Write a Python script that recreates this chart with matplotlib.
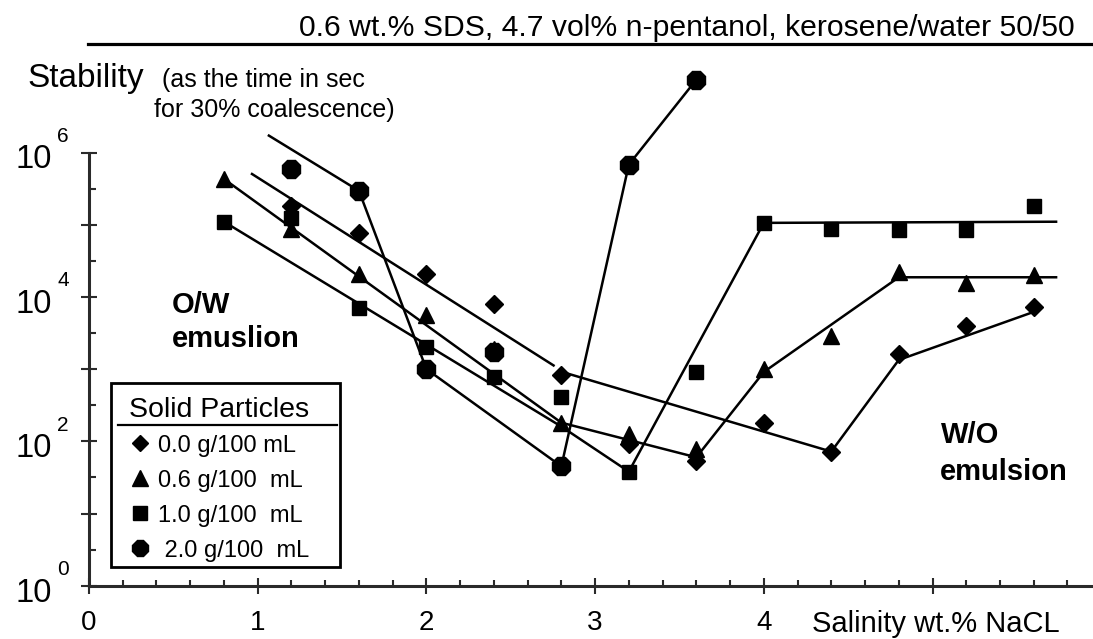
import matplotlib
matplotlib.use('Agg')
import matplotlib.pyplot as plt
import matplotlib.transforms as mtransforms
from matplotlib.lines import Line2D
from matplotlib.patches import Rectangle
from matplotlib.ticker import FixedLocator
import numpy as np

plt.rcParams['font.family'] = ['Liberation Sans', 'DejaVu Sans']

# ---------------- data ----------------
# measured stability (s) vs salinity (wt.% NaCl) for each solid-particle load
x_00 = [1.2, 1.6, 2.0, 2.4, 2.8, 3.2, 3.6, 4.0, 4.4, 4.8, 5.2, 5.6]
y_00 = [1.8e5, 7.6e4, 2.1e4, 7.9e3, 830, 91, 54, 178, 72, 1.6e3, 3.9e3, 7.2e3]

x_06 = [0.8, 1.2, 1.6, 2.0, 2.4, 2.8, 3.2, 3.6, 4.0, 4.4, 4.8, 5.2, 5.6]
y_06 = [4.3e5, 8.7e4, 2.1e4, 5.6e3, 1.9e3, 182, 126, 78, 1.0e3, 2.9e3, 2.2e4, 1.55e4, 2.0e4]

x_10 = [0.8, 1.2, 1.6, 2.0, 2.4, 2.8, 3.2, 3.6, 4.0, 4.4, 4.8, 5.2, 5.6]
y_10 = [1.1e5, 1.23e5, 7.1e3, 2.0e3, 780, 410, 38, 910, 1.07e5, 8.7e4, 8.5e4, 8.5e4, 1.8e5]

x_20 = [1.2, 1.6, 2.0, 2.4, 2.8, 3.2, 3.6]
y_20 = [6.0e5, 2.95e5, 1.0e3, 1.74e3, 45, 6.8e5, 1.02e7]

# hand-drawn trend lines (vertices)
t00a_x = [0.96, 2.76]
t00a_y = [5.15e5, 1.1e3]
t00b_x = [2.8, 4.4, 4.8, 5.6]
t00b_y = [920, 72, 1.34e3, 6.2e3]
t06_x = [0.8, 2.8, 3.6, 4.0, 4.8, 5.74]
t06_y = [4.3e5, 181, 60, 912, 1.87e4, 1.87e4]
t10_x = [0.8, 2.8, 3.2, 4.0, 5.74]
t10_y = [1.1e5, 160, 38, 1.06e5, 1.1e5]
t20_x = [1.06, 1.6, 2.0, 2.8, 3.2, 3.6]
t20_y = [1.75e6, 2.95e5, 1.0e3, 45, 6.8e5, 1.02e7]

x_tick_values = [0, 1, 2, 3, 4, 5]
x_tick_labels = ['0', '1', '2', '3', '4', '']
y_decades = [0, 1, 2, 3, 4, 5, 6]
y_labelled = [0, 2, 4, 6]

legend_title = 'Solid Particles'
legend_labels = ['0.0 g/100 mL', '0.6 g/100  mL', '1.0 g/100  mL', ' 2.0 g/100  mL']
title = '0.6 wt.% SDS, 4.7 vol% n-pentanol, kerosene/water 50/50'

# ---------------- layout ----------------
W, H = 1093, 639
X0, Y0 = 89.0, 585.7          # pixel of (0, 10^0)
PX_UNIT, PX_DEC = 168.7, 72.2
TOP = 40.0

fig = plt.figure(figsize=(W / 100, H / 100), dpi=100)
ax = fig.add_axes([X0 / W, 1 - Y0 / H, (W - X0) / W, (Y0 - TOP) / H])
ax.set_xlim(0, (W - X0) / PX_UNIT)
ax.set_yscale('log')
ax.set_ylim(1, 10 ** ((Y0 - TOP) / PX_DEC))
ax.patch.set_alpha(0)

axis_col = '#2a2a2a'
for s in ['top', 'right']:
    ax.spines[s].set_visible(False)
for s in ['left', 'bottom']:
    ax.spines[s].set_linewidth(2.2)
    ax.spines[s].set_color(axis_col)
ax.spines['left'].set_bounds(1, 1e6)

# x ticks
ax.set_xticks(x_tick_values, labels=x_tick_labels)
ax.xaxis.set_minor_locator(FixedLocator(np.round(np.arange(0.2, 5.9, 0.2), 2)))
ax.tick_params(axis='x', which='major', direction='inout', length=11, width=1.5,
               color=axis_col, labelsize=20, pad=12)
ax.tick_params(axis='x', which='minor', direction='in', length=4.3, width=1.5,
               color=axis_col)

# y ticks
ax.set_yticks([10.0 ** d for d in y_decades],
              labels=['10' if d in y_labelled else '' for d in y_decades])
ax.yaxis.set_minor_locator(FixedLocator([10.0 ** (d + 0.5) for d in y_decades[:-1]]))
ax.tick_params(axis='y', which='major', direction='inout', length=11.5, width=1.5,
               color=axis_col, labelsize=23.5, pad=21)
ax.tick_params(axis='y', which='minor', direction='in', length=5, width=1.5,
               color=axis_col)
off = mtransforms.ScaledTranslation(0, -4 / 100, fig.dpi_scale_trans)
for lab in ax.get_yticklabels():
    lab.set_transform(lab.get_transform() + off)
for d in y_labelled:
    ax.annotate(str(d), xy=(0, 10.0 ** d), xycoords=('axes fraction', 'data'),
                xytext=(-26, 16), textcoords='offset pixels',
                ha='center', va='center', fontsize=15)

# trend lines
lw = 1.8
for tx, ty in [(t00a_x, t00a_y), (t00b_x, t00b_y), (t06_x, t06_y),
               (t10_x, t10_y), (t20_x, t20_y)]:
    ax.plot(tx, ty, color='black', lw=lw, solid_capstyle='butt', clip_on=False)

# markers
mk = dict(ls='none', color='black', clip_on=False)
ax.plot(x_00, y_00, marker='D', ms=9, **mk)
ax.plot(x_06, y_06, marker='^', ms=11.5, **mk)
ax.plot(x_10, y_10, marker='s', ms=10.5, **mk)
ax.plot(x_20, y_20, marker='8', ms=13.5, **mk)


def fx(px):
    return px / W


def fy(py):
    return 1 - py / H


# title + rule
fig.text(fx(1075), fy(36), title, ha='right', va='baseline', fontsize=21.7)
fig.add_artist(Line2D([fx(88), 1.0], [fy(44.3), fy(44.3)], color='black', lw=2.3))

# y-axis description
fig.text(fx(27), fy(87.3), 'Stability', ha='left', va='baseline', fontsize=24)
fig.text(fx(162.5), fy(87.3), '(as the time in sec', ha='left', va='baseline', fontsize=18)
fig.text(fx(153.7), fy(116.7), 'for 30% coalescence)', ha='left', va='baseline', fontsize=18)

# x-axis label
fig.text(fx(811.6), fy(632), 'Salinity wt.% NaCL', ha='left', va='baseline', fontsize=21)

# region labels
fig.text(fx(172), fy(313.3), 'O/W', ha='left', va='baseline', fontsize=21, fontweight='bold')
fig.text(fx(172), fy(346.7), 'emuslion', ha='left', va='baseline', fontsize=21, fontweight='bold')
fig.text(fx(941), fy(443.3), 'W/O', ha='left', va='baseline', fontsize=21, fontweight='bold')
fig.text(fx(940), fy(480), 'emulsion', ha='left', va='baseline', fontsize=21, fontweight='bold')

# legend box (drawn by hand to keep the underlined title)
bx0, by0, bx1, by1 = 110.7, 383.3, 340.0, 566.7
fig.add_artist(Rectangle((fx(bx0), fy(by1)), fx(bx1) - fx(bx0), fy(by0) - fy(by1),
                         transform=fig.transFigure, facecolor='white',
                         edgecolor='black', lw=2.0, zorder=5))
fig.text(fx(129), fy(416.7), legend_title, ha='left', va='baseline', fontsize=20.5, zorder=6)
fig.add_artist(Line2D([fx(117.7), fx(336.7)], [fy(425), fy(425)], color='black',
                      lw=1.6, zorder=6))
leg_markers = [('D', 8.5), ('^', 11.0), ('s', 10.0), ('8', 12.5)]
for i, ((m, ms), lab) in enumerate(zip(leg_markers, legend_labels)):
    yc = 443.3 + 35 * i
    fig.add_artist(Line2D([fx(139.6)], [fy(yc)], marker=m, ms=ms, color='black',
                          ls='none', zorder=6))
    fig.text(fx(158), fy(yc + 8.4), lab, ha='left', va='baseline', fontsize=17, zorder=6)

fig.savefig('out.png', dpi=100)
